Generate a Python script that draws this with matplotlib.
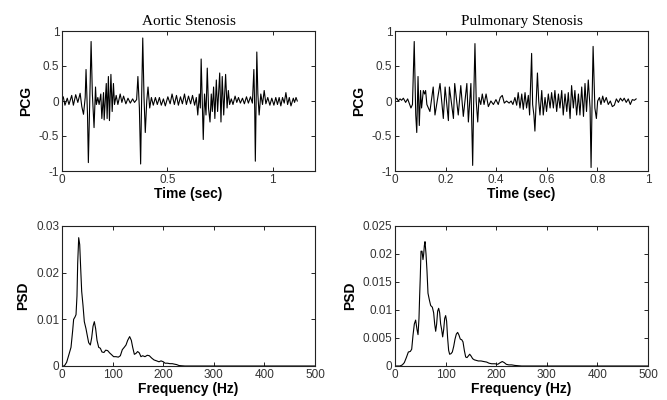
import matplotlib
matplotlib.use("Agg")
import matplotlib.pyplot as plt
import numpy as np

# ---- Aortic stenosis PCG (time in s, amplitude) ----
as_t = [0.000, 0.006, 0.014, 0.025, 0.033, 0.046, 0.054, 0.065, 0.075, 0.086, 0.094, 0.102,
        0.110, 0.114, 0.121, 0.125, 0.133, 0.138, 0.144, 0.152, 0.159, 0.163, 0.170, 0.176,
        0.184, 0.189, 0.197, 0.200, 0.210, 0.214, 0.220, 0.225, 0.232, 0.238, 0.244, 0.249,
        0.257, 0.265, 0.276, 0.284, 0.292, 0.303, 0.313, 0.324, 0.335, 0.344, 0.354,
        0.360, 0.367, 0.373, 0.378, 0.383, 0.389, 0.395, 0.402, 0.408, 0.416, 0.424, 0.433,
        0.443, 0.452, 0.462, 0.471, 0.481, 0.490, 0.502, 0.513, 0.522, 0.533, 0.543, 0.552,
        0.562, 0.571, 0.581, 0.590, 0.600, 0.610, 0.619, 0.629, 0.637, 0.644,
        0.651, 0.656, 0.660, 0.665, 0.670, 0.676, 0.683, 0.689, 0.695, 0.702, 0.708, 0.713,
        0.719, 0.725, 0.732, 0.738, 0.748, 0.754, 0.760, 0.767, 0.776, 0.783, 0.789, 0.795,
        0.803, 0.811, 0.821, 0.829, 0.837, 0.846, 0.856, 0.865, 0.875, 0.884, 0.894, 0.903,
        0.910, 0.914, 0.917, 0.921, 0.924, 0.929, 0.935, 0.943, 0.951, 0.959, 0.967, 0.976,
        0.986, 0.995, 1.005, 1.014, 1.022, 1.030, 1.038, 1.046, 1.054, 1.062, 1.070, 1.078,
        1.086, 1.097, 1.103, 1.110, 1.116]
as_y = [0.02, 0.06, -0.06, 0.04, -0.05, 0.08, -0.06, 0.09, -0.02, 0.11, -0.08, -0.19,
        0.05, 0.45, -0.20, -0.88, 0.20, 0.85, 0.10, -0.38, 0.20, -0.05, 0.05, -0.05,
        0.10, -0.25, 0.12, -0.27, 0.25, -0.25, 0.35, -0.28, 0.38, -0.15, 0.25, -0.05,
        0.08, -0.05, 0.10, -0.02, 0.07, -0.04, 0.04, -0.03, 0.03, -0.02, 0.02,
        0.35, -0.10, -0.90, 0.10, 0.90, 0.05, -0.45, 0.00, 0.20, -0.10, 0.05, -0.06,
        0.05, -0.05, 0.05, -0.06, 0.03, -0.07, 0.06, -0.04, 0.10, -0.05, 0.08, -0.06,
        0.06, -0.04, 0.10, -0.05, 0.07, -0.04, 0.08, -0.06, 0.05, -0.20,
        0.10, -0.10, 0.60, 0.00, -0.55, 0.10, -0.20, 0.47, -0.10, -0.30, 0.10, -0.15,
        0.20, -0.25, 0.30, -0.15, 0.40, -0.30, 0.35, -0.20, 0.38, -0.10, 0.15, -0.05,
        0.03, -0.05, 0.07, -0.02, 0.05, -0.03, 0.04, -0.04, 0.06, -0.03, 0.06, -0.03,
        0.45, -0.10, -0.86, 0.10, 0.70, 0.10, -0.20, 0.10, -0.05, 0.15, -0.04, 0.05,
        -0.06, 0.04, -0.06, 0.05, -0.05, 0.05, -0.07, 0.05, -0.03, 0.12, -0.05, 0.05,
        -0.07, 0.04, -0.02, 0.05, 0.00]

# ---- Pulmonary stenosis PCG ----
ps_t = [0.000, 0.007, 0.013, 0.020, 0.026, 0.033, 0.042, 0.050, 0.058, 0.063, 0.069,
        0.076, 0.082, 0.086, 0.091, 0.096, 0.101, 0.105, 0.112, 0.117, 0.121, 0.126,
        0.138, 0.151, 0.158, 0.178, 0.191, 0.198, 0.211, 0.215, 0.231, 0.236, 0.250, 0.260, 0.270, 0.284, 0.290,
        0.300, 0.307, 0.311, 0.316, 0.321, 0.327, 0.332, 0.339, 0.345, 0.352, 0.360, 0.369,
        0.379, 0.389, 0.399, 0.408, 0.416, 0.424, 0.432, 0.441, 0.451, 0.459, 0.466, 0.474,
        0.481, 0.487, 0.494, 0.501, 0.507, 0.514, 0.520, 0.527, 0.532,
        0.540, 0.544, 0.549, 0.553, 0.557, 0.563, 0.568, 0.573, 0.580, 0.586, 0.593, 0.599,
        0.606, 0.613, 0.619, 0.626, 0.632, 0.639, 0.646, 0.652, 0.659, 0.665, 0.672, 0.679,
        0.685, 0.692, 0.698, 0.705, 0.711, 0.718, 0.725, 0.731, 0.738, 0.745, 0.751, 0.757,
        0.764, 0.771, 0.775, 0.779, 0.783, 0.787, 0.790, 0.796, 0.801, 0.808, 0.814, 0.821,
        0.827, 0.835, 0.843, 0.851, 0.859, 0.867, 0.875, 0.883, 0.891, 0.899, 0.906, 0.914,
        0.922, 0.930, 0.938, 0.946, 0.953]
ps_y = [0.02, 0.04, 0.00, 0.03, 0.01, 0.04, -0.02, 0.03, -0.05, -0.10, -0.05,
        0.85, -0.20, -0.45, 0.35, -0.35, 0.15, -0.10, 0.15, 0.10, 0.15, -0.05,
        -0.15, 0.20, -0.20, 0.25, -0.25, 0.20, -0.28, 0.20, -0.25, 0.25, -0.20, 0.22, -0.22, 0.25, -0.30,
        0.25, -0.92, 0.00, 0.82, 0.00, -0.30, 0.05, -0.05, 0.10, -0.05, 0.10, -0.08,
        0.00, -0.05, 0.02, -0.05, 0.05, 0.08, -0.03, 0.00, -0.03, 0.00, -0.05, 0.05,
        -0.06, 0.12, -0.10, 0.10, -0.12, 0.12, -0.10, 0.08, -0.20,
        0.68, -0.05, -0.20, -0.43, -0.10, 0.40, 0.00, -0.20, 0.15, -0.20, 0.05, -0.15,
        0.10, -0.10, 0.12, -0.10, 0.15, -0.15, 0.10, -0.10, 0.15, -0.20, 0.10, -0.15,
        0.12, -0.25, 0.22, -0.10, 0.15, -0.20, 0.10, -0.20, 0.20, -0.22, 0.25, -0.15,
        0.30, -0.10, -0.95, 0.00, 0.78, 0.30, -0.10, -0.25, 0.00, 0.05, -0.05, 0.07,
        -0.02, 0.05, -0.05, 0.00, -0.08, -0.06, 0.03, -0.02, 0.04, 0.00, 0.04, -0.02,
        0.03, -0.05, 0.02, 0.01, 0.03]

# ---- Aortic stenosis PSD ----
as_f = [0, 4.6, 9.2, 13.8, 17.8, 21, 23, 25.7, 27.7, 29.6, 31, 33, 35, 36.9, 38.9, 41.5,
        44.1, 47.4, 50, 52.7, 56, 58.6, 61.3, 63.9, 66.5, 69.2, 72.5, 75.8, 79, 83, 86.3,
        90.2, 94.2, 98.2, 102, 106.7, 111.3, 115.3, 119.2, 123, 126.5, 129.8, 133.7, 137,
        139.7, 143, 146.2, 149.5, 152.8, 156, 159.4, 164, 168.6, 172.6, 177.2, 181.8, 187,
        191.7, 195.7, 200.3, 203.6, 208.2, 213.4, 218, 222, 226.6, 231.2, 236.5, 243, 300,
        400, 500]
as_p = [0, 0, 0.0008, 0.0025, 0.004, 0.0075, 0.010, 0.0105, 0.011, 0.015, 0.022, 0.0275,
        0.026, 0.021, 0.016, 0.013, 0.0095, 0.008, 0.0065, 0.005, 0.0045, 0.006, 0.0085,
        0.0095, 0.008, 0.0055, 0.004, 0.0038, 0.003, 0.0029, 0.0034, 0.0033, 0.0028, 0.0024,
        0.002, 0.002, 0.0019, 0.0022, 0.0035, 0.004, 0.0045, 0.0055, 0.0063, 0.0055, 0.004,
        0.0025, 0.0027, 0.0031, 0.0028, 0.002, 0.0022, 0.002, 0.0023, 0.0022, 0.0017, 0.0013,
        0.0011, 0.0009, 0.0011, 0.0009, 0.0006, 0.0006, 0.0005, 0.0005, 0.0004, 0.0003,
        0.0001, 0.00005, 0, 0, 0, 0]

# ---- Pulmonary stenosis PSD ----
ps_f = [0, 9.9, 14.5, 18.4, 22.4, 26.4, 30.3, 33, 35.6, 38.2, 40.8, 43.5, 45.5, 47.4, 48.7,
        50, 51.4, 53.4, 55.3, 56.7, 58, 59.3, 61.3, 63.2, 65.2, 67.9, 70.5, 73.8, 76.4, 78.4,
        80.4, 82.3, 84.3, 86.3, 88.3, 90.2, 92.2, 94.2, 96.2, 98.2, 100.1, 102, 104, 106, 108,
        110.7, 113.3, 116, 118.6, 121.2, 123.8, 126.5, 129, 131.8, 134.4, 137, 139.7, 142.3,
        145, 147.6, 150.2, 153.5, 156.8, 160.7, 164.7, 170, 175.2, 181.2, 185.8, 191, 197.6,
        203, 208, 212, 216, 220, 225, 230.6, 237, 243.7, 250, 300, 400, 500]
ps_p = [0, 0, 0.0002, 0.0006, 0.0015, 0.0025, 0.0026, 0.003, 0.0055, 0.0075, 0.0082, 0.0065,
        0.0056, 0.0085, 0.0125, 0.016, 0.0205, 0.0205, 0.019, 0.020, 0.0215, 0.0222, 0.020,
        0.017, 0.013, 0.0118, 0.0108, 0.0105, 0.0095, 0.0075, 0.0062, 0.0075, 0.0098, 0.0103,
        0.0095, 0.0075, 0.0065, 0.0052, 0.0065, 0.0085, 0.009, 0.008, 0.005, 0.0028, 0.0021,
        0.0022, 0.0025, 0.0035, 0.0048, 0.0057, 0.006, 0.0055, 0.0048, 0.0047, 0.0043, 0.0028,
        0.0016, 0.0015, 0.0018, 0.0021, 0.0018, 0.0013, 0.0011, 0.001, 0.0009, 0.0009, 0.0008,
        0.0007, 0.0005, 0.0004, 0.0004, 0.0003, 0.0006, 0.0008, 0.0006, 0.0003, 0.0002, 0.0002,
        0.0001, 0.00005, 0, 0, 0, 0]

titles = ["Aortic Stenosis", "Pulmonary Stenosis"]

plt.rcParams['font.family'] = ['Liberation Sans', 'DejaVu Sans']

fig = plt.figure(figsize=(6.67, 4.0), dpi=100)
W, H = 667.0, 400.0
def ax_at(l, t, r, b):
    return fig.add_axes([l / W, 1 - b / H, (r - l) / W, (b - t) / H])

axes = {
    "tl": ax_at(62, 31, 315, 171),
    "tr": ax_at(395, 31, 648, 171),
    "bl": ax_at(62, 226, 315, 366),
    "br": ax_at(395, 226, 648, 366),
}

lw = 0.8
axes["tl"].plot(as_t, as_y, color="black", lw=lw)
axes["tr"].plot(ps_t, ps_y, color="black", lw=lw)
axes["bl"].plot(as_f, as_p, color="black", lw=lw)
axes["br"].plot(ps_f, ps_p, color="black", lw=lw)

axes["tl"].set_xlim(0, 1.2)
axes["tl"].set_xticks([0, 0.5, 1])
axes["tl"].set_xticklabels(["0", "0.5", "1"])
axes["tr"].set_xlim(0, 1)
axes["tr"].set_xticks([0, 0.2, 0.4, 0.6, 0.8, 1])
axes["tr"].set_xticklabels(["0", "0.2", "0.4", "0.6", "0.8", "1"])
for k in ("tl", "tr"):
    a = axes[k]
    a.set_ylim(-1, 1)
    a.set_yticks([-1, -0.5, 0, 0.5, 1])
    a.set_yticklabels(["-1", "-0.5", "0", "0.5", "1"])
    a.set_ylabel("PCG", fontsize=10, fontweight="bold", labelpad=4)
    a.set_xlabel("Time (sec)", fontsize=10, fontweight="bold", labelpad=1)

axes["tl"].set_title(titles[0], fontsize=11, family="Liberation Serif", pad=4)
axes["tr"].set_title(titles[1], fontsize=11, family="Liberation Serif", pad=4)

axes["bl"].set_ylim(0, 0.03)
axes["bl"].set_yticks([0, 0.01, 0.02, 0.03])
axes["bl"].set_yticklabels(["0", "0.01", "0.02", "0.03"])
axes["br"].set_ylim(0, 0.025)
axes["br"].set_yticks([0, 0.005, 0.01, 0.015, 0.02, 0.025])
axes["br"].set_yticklabels(["0", "0.005", "0.01", "0.015", "0.02", "0.025"])
for k in ("bl", "br"):
    a = axes[k]
    a.set_xlim(0, 500)
    a.set_xticks([0, 100, 200, 300, 400, 500])
    a.set_ylabel("PSD", fontsize=10, fontweight="bold", labelpad=4)
    a.set_xlabel("Frequency (Hz)", fontsize=10, fontweight="bold", labelpad=1)

for a in axes.values():
    a.tick_params(direction="in", length=3, width=0.6, top=True, right=True,
                  labelsize=8.5, labelcolor="#333333", pad=2)
    for s in a.spines.values():
        s.set_linewidth(0.8)
        s.set_color("#222222")

fig.savefig("out.png", dpi=100)
